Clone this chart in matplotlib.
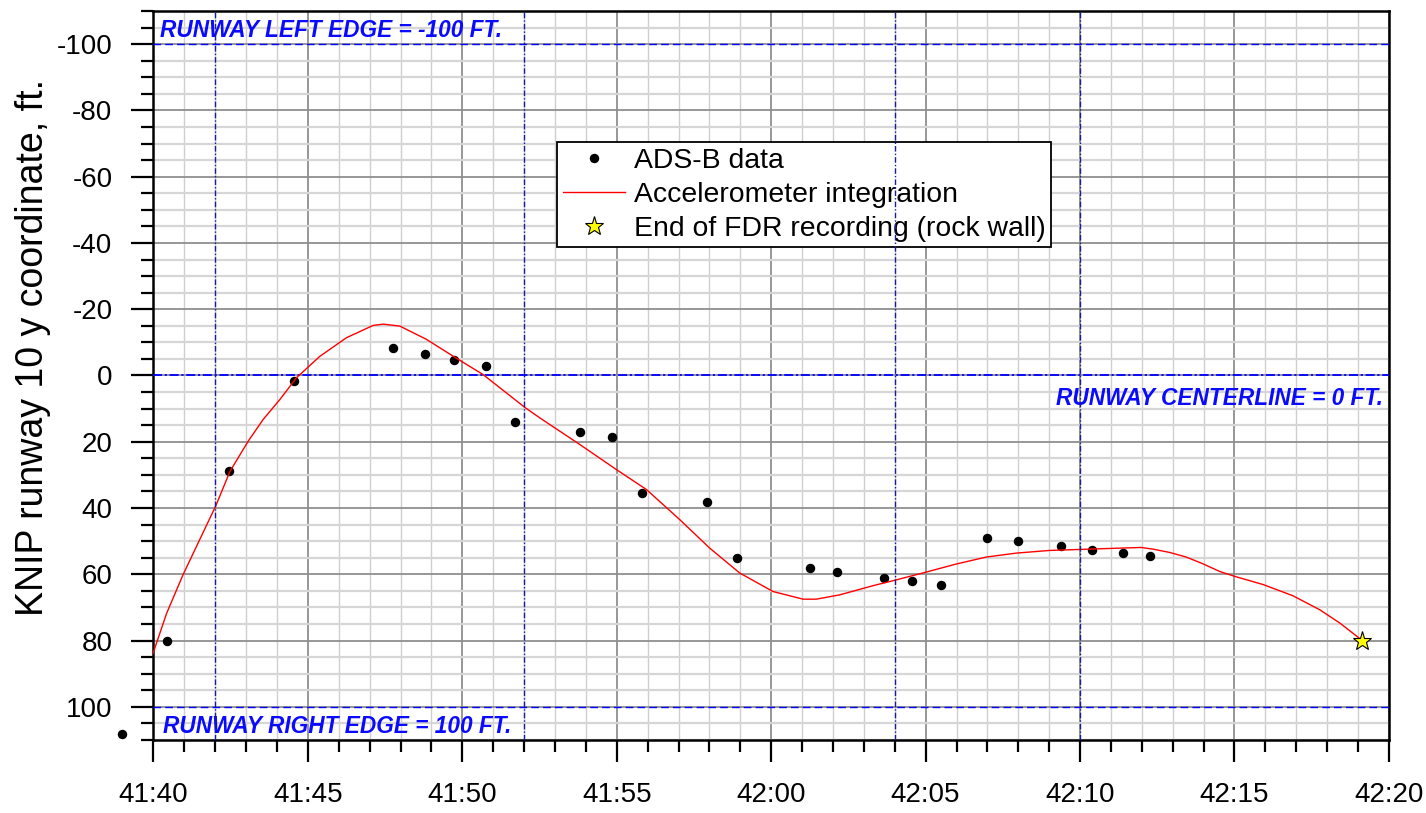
import numpy as np
import matplotlib
matplotlib.use("Agg")
import matplotlib.pyplot as plt
from matplotlib.ticker import MultipleLocator, FuncFormatter

plt.rcParams['font.family'] = ['Liberation Sans', 'DejaVu Sans']

# times are seconds after the full hour (41:40 -> 2500 s)
ads_t = [2498.97, 2500.45, 2502.46, 2504.55, 2507.76, 2508.80, 2509.74, 2510.77,
         2511.72, 2513.80, 2514.85, 2515.83, 2517.93, 2518.88, 2521.25, 2522.14,
         2523.66, 2524.55, 2525.50, 2526.98, 2527.98, 2529.38, 2530.40, 2531.38,
         2532.26]
ads_y = [108.2, 80.2, 28.7, 1.7, -8.2, -6.5, -4.6, -2.9,
         14.1, 17.1, 18.6, 35.4, 38.2, 55.1, 58.2, 59.2,
         61.0, 62.0, 63.1, 49.0, 49.9, 51.6, 52.7, 53.6,
         54.4]

acc_t = [2499.97, 2500.43, 2500.96, 2501.5, 2502.02, 2502.48, 2503.07, 2503.55,
         2504.09, 2504.63, 2505.39, 2506.25, 2507.11, 2507.44, 2507.98, 2508.84,
         2509.74, 2510.67, 2512.02, 2512.51, 2513.8, 2514.99, 2515.96, 2517.04,
         2518.01, 2518.98, 2520.06, 2521.03, 2521.46, 2522.22, 2523.31, 2524.0,
         2524.91, 2525.99, 2526.96, 2527.94, 2529.01, 2529.98, 2530.95, 2531.98,
         2532.36, 2532.9, 2533.44, 2533.97, 2534.51, 2535.0, 2535.93, 2536.9,
         2537.76, 2538.41, 2539.14]
acc_y = [84.3, 71.7, 60.1, 49.5, 39.3, 28.9, 19.8, 13.3,
         7.3, 0.7, -5.8, -11.4, -15.1, -15.5, -14.9, -10.9,
         -5.6, -0.3, 9.6, 12.8, 20.8, 28.4, 34.4, 43.5,
         52.1, 59.6, 65.2, 67.5, 67.5, 66.2, 63.4, 61.8,
         59.6, 56.9, 54.8, 53.6, 52.8, 52.5, 52.2, 51.9,
         52.4, 53.4, 54.8, 56.8, 59.1, 60.6, 63.1, 66.5,
         70.7, 74.7, 80.0]

end_t = [2539.14]
end_y = [80.0]

edge_y = [-100, 100]
center_y = 0
marker_t = [2502, 2512, 2524, 2530]

fig = plt.figure(figsize=(14.26, 8.13), dpi=100)
ax = fig.add_axes([0.1076, 0.0898, 0.8664, 0.8967])

ax.set_xlim(2500, 2540)
ax.set_ylim(110, -110)

# grid
ax.xaxis.set_major_locator(MultipleLocator(5))
ax.xaxis.set_minor_locator(MultipleLocator(1))
ax.yaxis.set_major_locator(MultipleLocator(20))
ax.yaxis.set_minor_locator(MultipleLocator(5))
ax.set_axisbelow(True)
ax.grid(which='minor', axis='x', color='#cfcfcf', lw=1.0)
ax.grid(which='minor', axis='y', color='#d6d6d6', lw=1.6)
ax.grid(which='major', axis='both', color='#8f8f8f', lw=1.3)

ax.xaxis.set_major_formatter(FuncFormatter(lambda v, p: "%d:%02d" % (int(round(v)) // 60, int(round(v)) % 60)))
ax.yaxis.set_major_formatter(FuncFormatter(lambda v, p: "%d" % v))

ax.tick_params(which='major', direction='out', length=16, width=1.6, labelsize=20)
ax.tick_params(which='minor', direction='out', length=8.5, width=1.6)
ax.tick_params(axis='y', which='major', pad=13.5)
ax.tick_params(axis='x', which='major', pad=14)
for s in ax.spines.values():
    s.set_linewidth(1.8)

# runway reference lines
for yv in edge_y:
    ax.axhline(yv, color='#0000ff', lw=1.0, ls=(0, (5.5, 3)), zorder=3)
ax.axhline(center_y, color='#0000ff', lw=1.3, ls=(0, (5, 1.5, 1.2, 1.5)), zorder=3)
for tv in marker_t:
    ax.axvline(tv, color='#1a1a9c', lw=1.0, ls=(0, (4, 1.5, 1, 1.5)), zorder=6)

# data
ax.plot(ads_t, ads_y, 'o', color='black', ms=5.8, ls='none', clip_on=False,
        zorder=4, label='ADS-B data')
ax.plot(acc_t, acc_y, color='#ff0000', lw=1.0, zorder=4, label='Accelerometer integration')
ax.plot(end_t, end_y, '*', ms=14, mfc='#ffff00', mec='black', mew=0.8, ls='none',
        zorder=5, label='End of FDR recording (rock wall)')

txt = dict(color='#0a0aff', fontsize=16.3, fontweight='bold', fontstyle='italic')
ax.text(2500.2, -102.2, 'RUNWAY LEFT EDGE = -100 FT.', ha='left', va='baseline', **txt)
ax.text(2500.3, 107.9, 'RUNWAY RIGHT EDGE = 100 FT.', ha='left', va='baseline', **txt)
ax.text(2539.8, 8.8, 'RUNWAY CENTERLINE = 0 FT.', ha='right', va='baseline', **txt)

ax.set_ylabel('KNIP runway 10 y coordinate, ft.', fontsize=27)
ax.yaxis.set_label_coords(-0.083, 0.539)

leg = ax.legend(loc='upper left', bbox_to_anchor=(0.327, 0.820), borderaxespad=0,
                fontsize=20.4, frameon=True, fancybox=False, framealpha=1,
                edgecolor='black', labelspacing=0.28, borderpad=0.2,
                handlelength=2.2, handletextpad=0.3)
leg.get_frame().set_linewidth(1.3)
leg.set_zorder(5)

fig.savefig('out.png', dpi=100)
